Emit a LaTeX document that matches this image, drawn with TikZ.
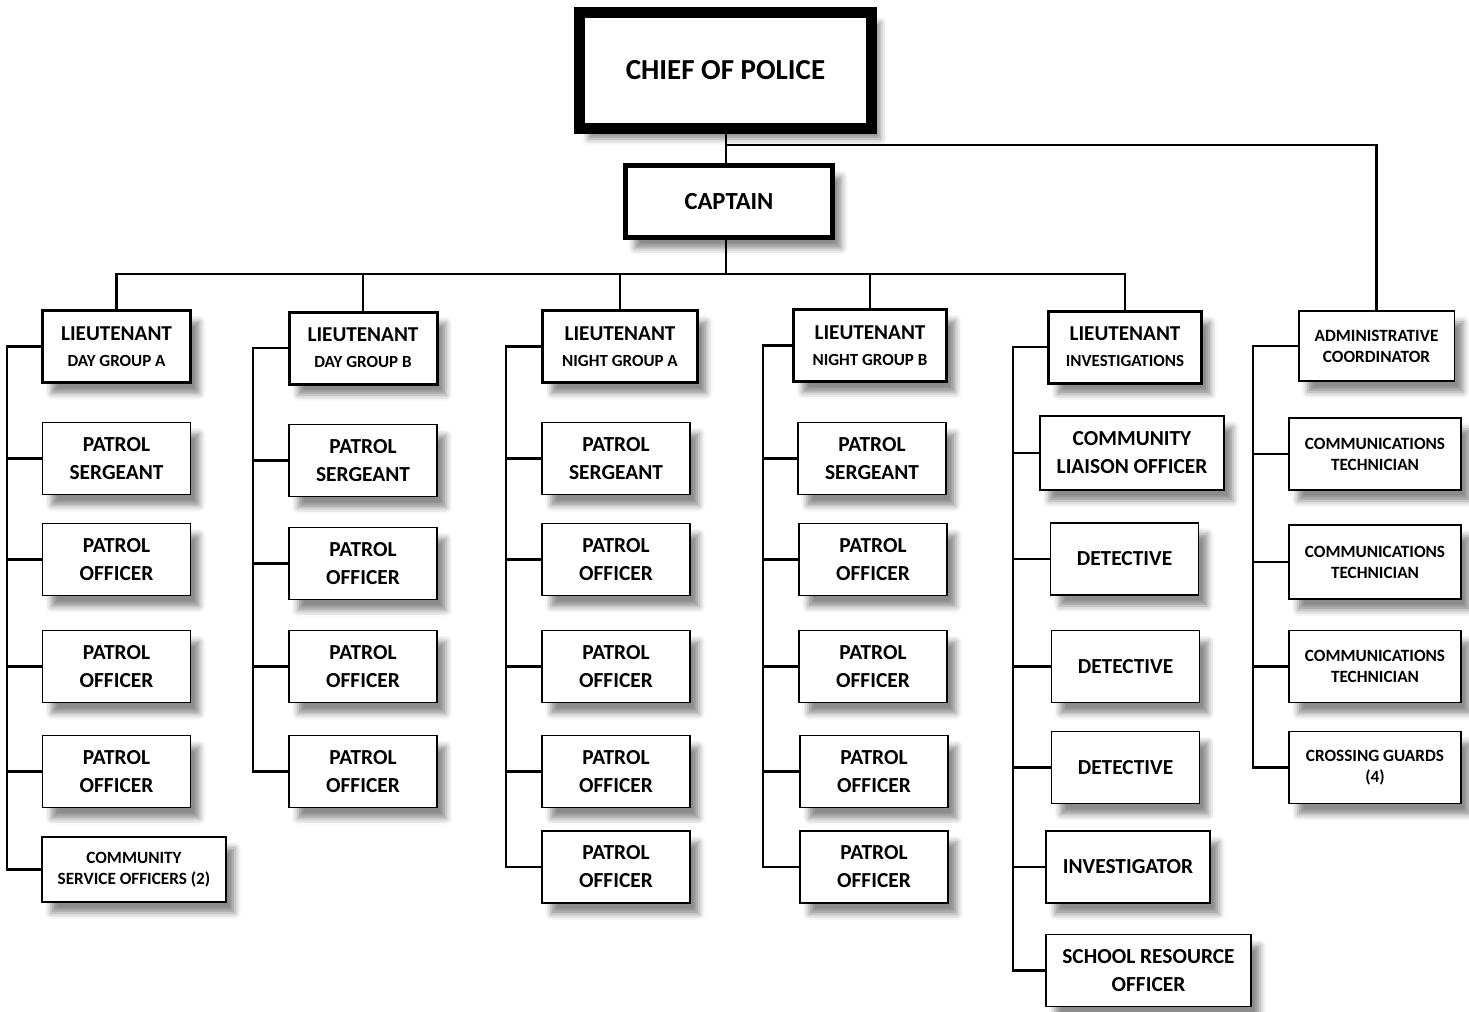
\documentclass[tikz,border=0pt]{standalone}
\usepackage{fontspec}
\setmainfont{Carlito}
\usepackage{tikz}
\usetikzlibrary{positioning, shadows, shadows.blur}

\tikzset{
  rolebox/.style={draw=black, fill=white, line width=0.75pt, minimum width=74pt, minimum height=36pt,
    inner sep=2pt, align=center, font=\bfseries\fontsize{10.7}{14}\selectfont,
    blur shadow={shadow xshift=4.5pt, shadow yshift=-5.5pt, shadow blur radius=3pt, shadow opacity=45}},
  ltbox/.style={rolebox, line width=1.5pt, font=\bfseries\fontsize{10.6}{13}\selectfont},
  smallbox/.style={rolebox, font=\bfseries\fontsize{8.6}{10.5}\selectfont},
  topbox/.style={rolebox, line width=5.5pt, minimum width=146pt, minimum height=58pt,
    font=\bfseries\fontsize{14.5}{17}\selectfont},
  link/.style={line width=1.2pt},
}
\newcommand{\grp}[1]{{\fontsize{8.5}{13}\selectfont #1}}

\begin{document}
\begin{tikzpicture}[x=0.5pt, y=-0.5pt]
    \useasboundingbox (0,0) rectangle (1469,1012);

    \node[topbox] (chief) at (725.5,70) {CHIEF OF POLICE};
    \node[rolebox, line width=2.5pt, minimum width=103.5pt, minimum height=36pt,
          font=\bfseries\fontsize{12.3}{14}\selectfont] (captain) at (729,201.5) {CAPTAIN};

    \node[ltbox] (ltA) at (116.5,346.5) {LIEUTENANT\\\grp{DAY GROUP A}};
    \node[ltbox] (ltB) at (363,348) {LIEUTENANT\\\grp{DAY GROUP B}};
    \node[ltbox, minimum width=77.5pt] (ltC) at (620,346.5) {LIEUTENANT\\\grp{NIGHT GROUP A}};
    \node[ltbox, minimum width=76.5pt] (ltD) at (870,345.5) {LIEUTENANT\\\grp{NIGHT GROUP B}};
    \node[ltbox, minimum width=76.5pt] (ltE) at (1125,347) {LIEUTENANT\\\grp{INVESTIGATIONS}};
    \node[smallbox, minimum width=77.75pt, minimum height=35pt] (admin) at (1376.5,346) {ADMINISTRATIVE\\COORDINATOR};

    \node[rolebox] (sgtA) at (116.5,458.5) {PATROL\\SERGEANT};
    \node[rolebox] (offA1) at (116.5,559.5) {PATROL\\OFFICER};
    \node[rolebox] (offA2) at (116.5,666.5) {PATROL\\OFFICER};
    \node[rolebox] (offA3) at (116.5,771.5) {PATROL\\OFFICER};
    \node[smallbox, minimum width=92pt, minimum height=32.5pt] (csoA) at (134,869.5) {COMMUNITY\\SERVICE OFFICERS (2)};

    \node[rolebox] (sgtB) at (363,460.5) {PATROL\\SERGEANT};
    \node[rolebox] (offB1) at (363,563.5) {PATROL\\OFFICER};
    \node[rolebox] (offB2) at (363,666.5) {PATROL\\OFFICER};
    \node[rolebox] (offB3) at (363,771.5) {PATROL\\OFFICER};

    \node[rolebox] (sgtC) at (616,458.5) {PATROL\\SERGEANT};
    \node[rolebox] (offC1) at (616,559.5) {PATROL\\OFFICER};
    \node[rolebox] (offC2) at (616,666.5) {PATROL\\OFFICER};
    \node[rolebox] (offC3) at (616,771.5) {PATROL\\OFFICER};
    \node[rolebox] (offC4) at (616,867) {PATROL\\OFFICER};

    \node[rolebox] (sgtD) at (872,458.5) {PATROL\\SERGEANT};
    \node[rolebox] (offD1) at (873,559.5) {PATROL\\OFFICER};
    \node[rolebox] (offD2) at (873,666.5) {PATROL\\OFFICER};
    \node[rolebox] (offD3) at (874,771.5) {PATROL\\OFFICER};
    \node[rolebox] (offD4) at (874,867) {PATROL\\OFFICER};

    \node[rolebox, minimum width=92pt, minimum height=37pt] (liaisonE) at (1132,453) {COMMUNITY\\LIAISON OFFICER};
    \node[rolebox] (detE1) at (1124.5,559) {DETECTIVE};
    \node[rolebox] (detE2) at (1125.5,666.5) {DETECTIVE};
    \node[rolebox] (detE3) at (1125.5,767.5) {DETECTIVE};
    \node[rolebox, minimum width=82pt] (invE) at (1128,867) {INVESTIGATOR};
    \node[rolebox, minimum width=102.5pt] (sroE) at (1148.5,970.5) {SCHOOL RESOURCE\\OFFICER};

    \node[smallbox, minimum width=86pt] (techF1) at (1375,454) {COMMUNICATIONS\\TECHNICIAN};
    \node[smallbox, minimum width=86pt, minimum height=37pt] (techF2) at (1375,562) {COMMUNICATIONS\\TECHNICIAN};
    \node[smallbox, minimum width=86pt] (techF3) at (1375,666.5) {COMMUNICATIONS\\TECHNICIAN};
    \node[smallbox, minimum width=86pt] (guardsF) at (1375,767.5) {CROSSING GUARDS\\(4)};

    \coordinate (split) at (726,145);
    \coordinate (bus) at (726,274);
    \coordinate (barA) at (7,0);
    \coordinate (barB) at (253,0);
    \coordinate (barC) at (506,0);
    \coordinate (barD) at (763,0);
    \coordinate (barE) at (1013,0);
    \coordinate (barF) at (1253,0);

    \draw[link] (chief.south -| bus) -- (captain.north -| bus);
    \draw[link] (split) -| (admin.north);
    \draw[link] (captain.south -| bus) -- (bus);
    \foreach \lt in {ltA,ltB,ltC,ltD,ltE}
        \draw[link] (\lt.north) |- (bus);

    \draw[link] (ltA.west) -| (barA |- csoA.west) -- (csoA.west);
    \foreach \n in {sgtA,offA1,offA2,offA3}
        \draw[link] (\n.west) -- (\n.west -| barA);
    \draw[link] (ltB.west) -| (barB |- offB3.west) -- (offB3.west);
    \foreach \n in {sgtB,offB1,offB2}
        \draw[link] (\n.west) -- (\n.west -| barB);
    \draw[link] (ltC.west) -| (barC |- offC4.west) -- (offC4.west);
    \foreach \n in {sgtC,offC1,offC2,offC3}
        \draw[link] (\n.west) -- (\n.west -| barC);
    \draw[link] (ltD.west) -| (barD |- offD4.west) -- (offD4.west);
    \foreach \n in {sgtD,offD1,offD2,offD3}
        \draw[link] (\n.west) -- (\n.west -| barD);
    \draw[link] (ltE.west) -| (barE |- sroE.west) -- (sroE.west);
    \foreach \n in {liaisonE,detE1,detE2,detE3,invE}
        \draw[link] (\n.west) -- (\n.west -| barE);
    \draw[link] (admin.west) -| (barF |- guardsF.west) -- (guardsF.west);
    \foreach \n in {techF1,techF2,techF3}
        \draw[link] (\n.west) -- (\n.west -| barF);
\end{tikzpicture}
\end{document}
